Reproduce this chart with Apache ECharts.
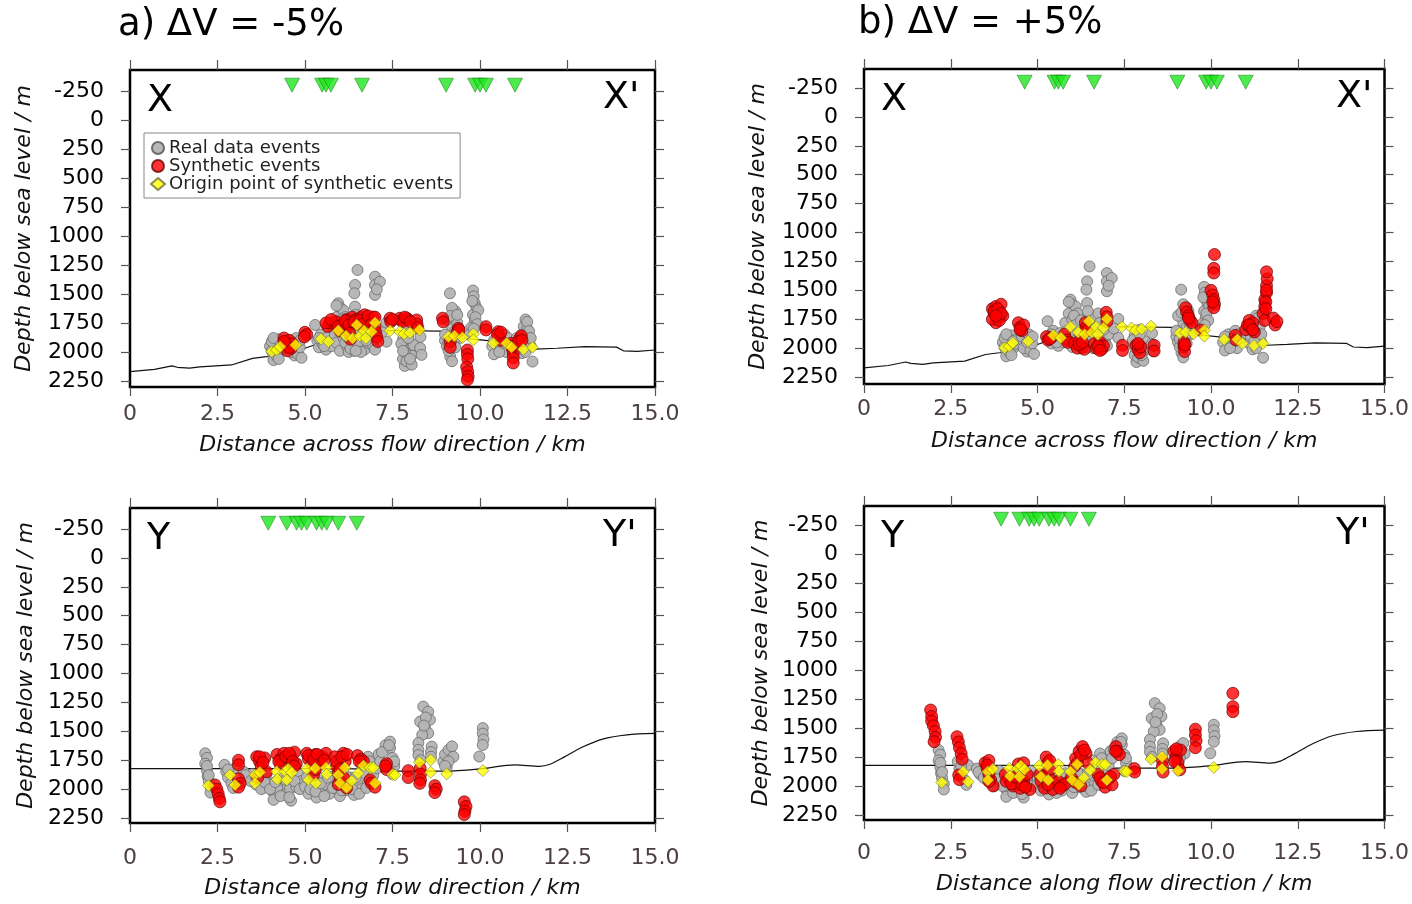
<!DOCTYPE html>
<html>
<head>
<meta charset="utf-8">
<script src="https://cdn.jsdelivr.net/npm/echarts@6/dist/echarts.min.js"></script>
<style>html,body{margin:0;padding:0;background:#fff}#c{width:1412px;height:904px}</style>
</head>
<body>
<div id="c"></div>
<script>
// ---------- tick labels ----------
const yTicks = [-250, 0, 250, 500, 750, 1000, 1250, 1500, 1750, 2000, 2250];
const panelTitles = ['a) \u0394V = -5%', 'b) \u0394V = +5%'];
const xNameAcross = 'Distance across flow direction / km';
const xNameAlong = 'Distance along flow direction / km';
const yName = 'Depth below sea level / m';

// ---------- profile X (across flow) ----------
const stationsX = [4.63, 5.49, 5.6, 5.74, 6.63, 9.03, 9.86, 10.0, 10.17, 11.0];
const topoX = [[0,2170],[0.7,2150],[1.2,2120],[1.35,2132],[1.7,2140],[2.0,2128],[2.9,2112],[3.5,2055],[3.9,2040],[4.5,2010],[5.0,1968],[5.4,1925],[5.9,1860],[6.5,1830],[7.3,1815],[8.9,1820],[9.1,1850],[9.5,1880],[10.3,1905],[11.0,1940],[11.6,1975],[12.2,1968],[13.0,1954],[13.9,1958],[14.1,1990],[14.5,1995],[15,1983]];
const grayX = [[4.0,1950],[4.05,1990],[4.1,2030],[4.1,2070],[4.15,1920],[4.2,1960],[4.25,1890],[4.3,2000],[4.35,1930],[4.05,1910],[4.2,2040],[4.4,1960],
[4.1,1880],[4.25,2060],[4.3,1940],[4.6,1940],[4.7,2030],
[4.55,1900],[4.6,2000],[4.7,1950],[4.8,2020],[4.85,1960],[4.9,2050],[4.75,1880],[4.86,1900],
[5.35,1900],[5.4,1960],[5.45,1850],[5.5,1930],[5.6,1980],[5.7,1900],[5.75,1950],[5.29,1767],
[5.4,1880],[5.55,1950],[5.65,1870],[5.8,1780],
[5.95,1580],[6.0,1620],[6.05,1660],[5.9,1700],[6.1,1640],[6.0,1750],[6.15,1700],[5.9,1600],[6.05,1720],
[5.85,1850],[5.9,1920],[6.0,1990],[6.1,1880],[6.2,1950],[6.25,2000],[6.3,1830],[6.35,1920],[6.4,1990],[6.45,1870],[6.5,1800],[6.55,1950],[6.6,1900],[6.65,1850],[6.7,1980],[6.8,1920],[6.85,1860],[6.9,1780],[6.95,1950],[7.05,1880],[6.2,1800],[6.4,1760],[6.6,1740],[6.75,1700],
[6.1,1800],[6.15,1920],[6.2,1870],[6.3,1970],[6.35,1780],[6.5,1920],[6.55,1830],[6.6,2000],[6.7,1820],[6.75,1900],[6.8,1780],[6.9,1840],[7.0,1980],[6.45,1990],[6.25,1760],
[6.5,1293],[6.43,1422],[6.41,1494],[6.43,1609],[6.45,1680],[7.0,1351],[7.0,1422],[7.14,1394],[7.0,1508],[7.05,1460],
[7.33,1911],[7.33,1747],[7.2,1830],
[7.8,1890],[7.85,1950],[7.9,2000],[7.95,2050],[8.0,2100],[7.85,2120],[7.9,1920],[8.0,1980],[8.05,2030],[7.8,2060],[8.1,1940],[7.95,1840],
[7.75,1930],[7.85,2000],[7.9,2080],[7.95,1880],[8.05,2110],[7.8,1990],[8.0,2060],
[8.29,1966],[8.33,2025],[8.3,1870],
[9.14,1494],[9.0,1900],[9.05,1950],[9.1,1850],[9.2,1780],[9.25,1700],[9.3,1650],[9.2,1620],[9.35,1750],[9.4,1880],[9.15,2040],[9.2,2080],[9.1,1990],[9.3,1820],
[9.0,1850],[9.05,1720],[9.15,1690],[9.25,1900],[9.35,1680],[9.4,1800],[9.3,1960],[9.1,1920],
[9.8,1470],[9.82,1520],[9.85,1580],[9.9,1620],[9.8,1680],[9.85,1740],[9.95,1640],[9.75,1790],[9.7,1850],
[9.78,1560],[9.87,1700],[9.92,1760],[9.82,1800],
[10.35,1950],[10.4,2020],[10.5,1880],[10.6,1960],[10.7,1850],[10.75,2000],
[10.4,1900],[10.55,2000],[10.65,1920],[10.8,1880],
[11.0,1920],[11.1,1960],[11.2,1850],[11.25,1780],[11.3,1720],[11.35,1800],[11.4,1900],[11.45,1950],[11.5,2083],[11.2,2010],
[11.05,1880],[11.15,1900],[11.25,1940],[11.3,1860],[11.35,1740],[11.4,1820],[11.3,2000],[11.45,1880]];
const yellowX = [[4.05,1997],[4.19,1983],[4.29,1954],[4.73,1940],[5.46,1888],[5.67,1911],[5.95,1816],[6.17,1862],[6.36,1882],[6.48,1767],[6.57,1862],[6.69,1816],[6.74,1882],[6.9,1825],[7.0,1747],[7.43,1816],[7.71,1825],[7.83,1845],[8.0,1834],[8.27,1810],[9.1,1868],[9.27,1862],[9.5,1876],[9.81,1845],[9.81,1896],[10.38,1925],[10.76,1925],[10.9,1960],[11.24,1977],[11.5,1960]];
const redXa = [[4.4,1880],[4.45,1920],[4.5,1950],[4.55,1900],[4.6,1970],[4.65,1930],[4.5,1990],[4.55,1960],[4.4,1910],
[5.0,1830],[5.05,1850],[4.98,1870],
[5.65,1780],[5.7,1750],[5.85,1760],[5.9,1740],[6.05,1790],[6.1,1760],[6.2,1720],[6.3,1750],[6.35,1700],[6.45,1720],[6.5,1760],[6.6,1700],[6.7,1680],[6.75,1740],[6.85,1720],[6.95,1700],[6.0,1820],
[5.6,1750],[5.75,1720],[5.95,1780],[6.15,1730],[6.25,1770],[6.4,1740],[6.55,1730],[6.65,1760],[6.8,1690],[6.9,1760],[7.0,1700],
[6.28,1840],[6.3,1890],[7.0,1780],[7.02,1830],[7.05,1870],[7.08,1910],
[7.43,1709],[7.45,1740],[7.71,1709],[7.75,1730],[7.81,1738],[7.9,1709],[7.95,1720],[8.19,1724],[8.2,1760],[7.5,1720],[7.85,1700],[8.0,1740],[8.22,1790],
[8.93,1709],[8.95,1740],[9.38,1796],[9.35,1830],[9.4,1810],[9.15,1910],[9.15,1960],
[9.64,1983],[9.64,2020],[9.65,2060],[9.62,2130],[9.65,2170],[9.66,2210],[9.64,2240],
[10.17,1782],[10.17,1810],[10.52,1825],[10.55,1868],[10.6,1900],[10.5,1850],[10.6,1830],
[10.9,1925],[10.92,1970],[10.95,2010],[10.95,2050],[10.95,2095],[10.92,1950],[11.14,1882],[11.18,1860],[11.1,1910],[11.2,1900]];
const redXb = [[3.7,1660],[3.75,1700],[3.8,1640],[3.85,1740],[3.9,1680],[3.95,1620],[3.8,1780],[3.7,1750],[4.0,1720],[3.9,1760],
[3.75,1680],[3.85,1660],[3.95,1700],[3.8,1720],
[4.45,1780],[4.5,1820],[4.55,1850],[4.6,1800],[4.5,1840],
[5.26,1900],[5.3,1930],[5.4,1910],[5.35,1920],[5.78,1880],[5.85,1930],[5.87,1950],
[6.07,1960],[6.15,2000],[6.2,1940],[6.3,1990],[6.35,2010],[6.2,1970],[6.3,1950],[6.38,1780],[6.4,1820],[6.42,1850],
[6.64,1960],[6.7,2000],[6.8,1950],[6.85,2010],[6.9,1980],[6.75,1980],[6.8,2020],[6.98,1690],[7.0,1730],[7.0,1770],
[7.45,1975],[7.45,2020],[7.84,1975],[7.9,2010],[7.95,2040],[7.98,1990],[7.9,1960],[8.36,1975],[8.36,2025],
[9.27,1650],[9.3,1690],[9.35,1720],[9.4,1760],[9.45,1780],[9.35,1740],[9.22,1950],[9.22,1990],[9.24,2030],[9.25,1970],[9.7,1843],
[10.0,1500],[10.05,1540],[10.08,1580],[10.1,1620],[10.08,1650],[10.05,1600],[10.08,1310],[10.08,1350],[10.1,1190],
[10.7,1890],[10.72,1930],[11.0,1840],[11.05,1800],[11.1,1760],[11.15,1820],[11.2,1780],[11.25,1860],[11.1,1800],[11.2,1840],
[11.5,1700],[11.55,1640],[11.55,1580],[11.6,1520],[11.6,1460],[11.62,1400],[11.6,1340],[11.55,1760],[11.6,1500],[11.58,1600],[11.58,1660],
[11.8,1740],[11.85,1800],[11.9,1770]];

// ---------- profile Y (along flow) ----------
const stationsY = [3.95, 4.48, 4.76, 4.9, 5.05, 5.33, 5.48, 5.62, 5.95, 6.48];
const topoY = [[0,1822],[6.8,1825],[7.0,1845],[9.0,1845],[10.0,1825],[11.0,1790],[11.7,1803],[12.0,1785],[12.4,1723],[12.9,1640],[13.5,1567],[14.2,1530],[15,1518]];
const grayY = [[2.15,1690],[2.2,1730],[2.15,1780],[2.2,1840],[2.22,1890],[2.25,1930],[2.3,1980],[2.3,2030],[2.2,1800],[2.25,1880],
[2.7,1790],[2.75,1850],[2.8,1900],[2.9,1950],[2.95,1990],[3.0,1820],[2.8,1830],
[3.25,1850],[3.35,1900],[3.5,1870],[3.6,1960],[3.7,1920],[3.8,1990],[3.9,1870],[4.0,1950],[4.1,2030],[4.1,2093],[4.2,1990],[4.3,1900],[4.4,2050],[4.5,1960],[4.57,2000],[4.6,2100],[4.65,1890],[4.75,1980],[4.8,1870],[4.9,1930],
[3.3,1880],[3.45,1930],[3.6,1900],[3.75,2000],[3.85,1940],[4.0,2000],[4.15,1940],[4.3,2060],[4.45,1920],[4.55,2070],[4.7,1930],[4.85,2000],
[5.0,1980],[5.1,2040],[5.2,1950],[5.33,2073],[5.4,1900],[5.5,2000],[5.6,1960],[5.7,2040],[5.8,1890],[5.9,2000],[6.0,2060],[6.1,1950],[6.2,2010],[6.3,1900],[6.4,2050],[6.5,1960],[6.6,2000],[6.7,1870],[6.8,1940],[6.9,1800],[7.0,1750],[7.1,1700],[6.6,1780],[6.8,1720],
[5.05,1900],[5.15,2000],[5.3,2020],[5.45,1950],[5.55,2060],[5.65,1900],[5.8,1990],[5.95,1950],[6.05,2010],[6.15,1880],[6.25,1960],[6.35,2000],[6.45,1900],[6.55,2040],[6.75,1990],[6.95,1880],[7.05,1820],[6.85,1760],[7.15,1760],
[7.3,1620],[7.43,1589],[7.43,1644],[7.5,1730],[7.55,1800],[7.5,1870],[7.2,1680],[7.4,1620],[7.55,1760],
[8.38,1286],[8.52,1330],[8.29,1416],[8.57,1400],[8.43,1473],[8.52,1516],[8.35,1530],[8.24,1600],[8.24,1660],[8.24,1705],[8.62,1632],[8.6,1680],[8.3,1750],[8.45,1380],[8.4,1450],[8.6,1720],
[8.95,1760],[9.0,1700],[9.05,1810],[9.1,1660],[9.2,1630],[9.24,1720],[9.1,1760],[9.0,1800],
[10.08,1472],[10.08,1520],[10.1,1570],[10.08,1618],[9.98,1718]];
const yellowY = [[2.24,1969],[2.86,1877],[3.0,1964],[3.57,1877],[3.71,1854],[3.57,1949],[4.19,1848],[4.21,1914],[4.43,1848],[4.52,1825],[4.48,1920],[4.62,1857],[5.05,1825],[5.1,1920],[5.29,1820],[5.31,1949],[5.6,1814],[5.62,1872],[5.95,1877],[6.0,1949],[6.14,1814],[6.19,1987],[6.33,1929],[6.52,1863],[6.67,1797],[6.86,1814],[6.95,1814],[7.0,1949],[7.5,1873],[7.57,1877],[8.27,1768],[8.59,1747],[8.59,1854],[9.05,1868],[10.08,1840]];
const redYc = [[2.43,1964],[2.48,2000],[2.52,2040],[2.55,2080],[2.57,2110],
[3.1,1750],[3.1,1790],[3.1,1910],[3.15,1950],[3.1,1983],
[3.62,1720],[3.7,1760],[3.75,1800],[3.85,1730],[3.9,1850],[3.65,1900],[3.7,1720],[3.8,1770],
[4.2,1700],[4.3,1740],[4.4,1690],[4.5,1760],[4.6,1720],[4.7,1680],[4.75,1780],[4.3,1790],[4.25,1760],[4.45,1720],[4.55,1690],[4.65,1760],[4.7,1800],
[5.05,1690],[5.1,1740],[5.2,1780],[5.3,1700],[5.4,1750],[5.5,1720],[5.6,1690],[5.24,1877],[5.3,1830],[5.1,1710],[5.25,1740],[5.35,1700],[5.45,1780],[5.55,1750],
[5.85,1720],[5.9,1800],[5.95,1860],[6.0,1930],[6.1,1690],[6.15,1760],[6.19,1990],[6.1,1900],[5.9,1760],[6.05,1720],[6.2,1700],[5.95,1960],[6.0,1830],
[6.5,1710],[6.6,1740],[6.67,1760],[6.55,1760],[6.86,1920],[6.9,1950],[7.0,1983],
[7.33,1780],[7.33,1830],[7.3,1800],[7.95,1840],[7.95,1900],
[8.29,1820],[8.3,1870],[8.3,1920],[8.28,1950],[8.71,1970],[8.75,2000],[8.71,2030],
[9.55,2110],[9.6,2150],[9.57,2190],[9.55,2220]];
const redYd = [[1.92,1345],[1.95,1400],[1.95,1440],[2.0,1480],[2.05,1530],[2.06,1580],[2.02,1618],
[2.68,1575],[2.72,1620],[2.75,1670],[2.8,1720],[2.83,1770],[2.73,1905],[2.75,1945],
[3.49,1800],[3.55,1850],[3.6,1900],[3.65,1950],[3.72,2000],[3.6,1780],[3.55,1820],[3.6,1960],
[4.07,1900],[4.2,1950],[4.3,2000],[4.4,1930],[4.5,2020],[4.6,1960],[4.7,1900],[4.78,2030],[4.45,1810],[4.6,1800],
[4.1,1960],[4.25,1980],[4.35,1920],[4.55,1990],[4.65,2010],
[5.07,1900],[5.1,1960],[5.2,2020],[5.25,1750],[5.3,1800],[5.35,1860],[5.4,1950],[5.44,2030],[5.15,1920],[5.3,1990],[5.35,1780],
[5.6,1960],[5.7,2000],[5.8,1980],[5.65,2020],
[6.07,1830],[6.1,1760],[6.2,1700],[6.3,1660],[6.4,1720],[6.44,1800],[6.15,1800],[6.25,1730],[6.35,1690],[5.98,1930],[6.1,1970],[6.25,2000],
[6.75,1900],[6.85,1960],[6.95,2010],[7.05,1940],[7.15,1990],[7.2,1900],[6.8,1930],[6.9,1970],[7.1,1920],
[7.26,1660],[7.3,1700],[7.36,1730],[7.25,1700],[7.79,1850],[7.8,1880],
[8.6,1780],[8.6,1830],[8.62,1880],[8.93,1700],[9.0,1750],[9.05,1800],[9.1,1860],[9.12,1690],[9.0,1680],[8.95,1790],
[9.55,1510],[9.55,1560],[9.57,1610],[9.55,1670],[10.63,1201],[10.63,1316],[10.63,1359]];
const stationDepth = -300;

// ---------- layout ----------
const FONT = 'DejaVu Sans';
const grids = [
  {left:130, top:70, width:525, height:317, yMin:-431, yMax:2302, xGap:16, nameGap:47, yNameGap:95},
  {left:864, top:69, width:524, height:315, yMin:-414, yMax:2310, xGap:14, nameGap:46, yNameGap:95},
  {left:130, top:508, width:525, height:315, yMin:-432, yMax:2293, xGap:24, nameGap:54, yNameGap:93},
  {left:864, top:506, width:524, height:314, yMin:-414, yMax:2293, xGap:22, nameGap:53, yNameGap:92}
];
const panels = [
  {gray:grayX, red:redXa, yellow:yellowX, topo:topoX, st:stationsX, xname:xNameAcross, L:'X'},
  {gray:grayX, red:redXb, yellow:yellowX, topo:topoX, st:stationsX, xname:xNameAcross, L:'X'},
  {gray:grayY, red:redYc, yellow:yellowY, topo:topoY, st:stationsY, xname:xNameAlong, L:'Y'},
  {gray:grayY, red:redYd, yellow:yellowY, topo:topoY, st:stationsY, xname:xNameAlong, L:'Y'}
];

const grid = [], xAxis = [], yAxis = [], series = [], graphic = [];
const tickStyle = {lineStyle:{color:'#555', width:1.2}};
grids.forEach((g, i) => {
  grid.push({left:g.left, top:g.top, width:g.width, height:g.height, show:true, borderColor:'#000', borderWidth:2.5, backgroundColor:'#fff', containLabel:false});
  xAxis.push({type:'value', gridIndex:i, min:0, max:15, interval:2.5, position:'bottom',
    axisLine:{show:false, onZero:false}, splitLine:{show:false},
    axisTick:{show:true, inside:false, length:9, ...tickStyle},
    axisLabel:{margin:g.xGap, fontFamily:FONT, fontSize:22, color:'#4b3f3f', formatter:v => v === 0 ? '0' : v.toFixed(1)},
    name:panels[i].xname, nameLocation:'middle', nameGap:g.nameGap,
    nameTextStyle:{fontFamily:FONT, fontSize:22, fontStyle:'italic', color:'#111'}});
  xAxis.push({type:'value', gridIndex:i, min:0, max:15, interval:2.5, position:'top',
    axisLine:{show:false, onZero:false}, splitLine:{show:false}, axisLabel:{show:false},
    axisTick:{show:true, inside:false, length:10, ...tickStyle}});
  yAxis.push({type:'value', gridIndex:i, inverse:true, min:g.yMin, max:g.yMax, position:'left',
    axisLine:{show:false, onZero:false}, splitLine:{show:false},
    axisTick:{show:true, inside:false, length:9, customValues:yTicks, ...tickStyle},
    axisLabel:{margin:26, fontFamily:FONT, fontSize:22, color:'#000', customValues:yTicks, formatter:v => String(v)},
    name:yName, nameLocation:'middle', nameGap:g.yNameGap, nameRotate:90,
    nameTextStyle:{fontFamily:FONT, fontSize:22, fontStyle:'italic', color:'#111'}});
  yAxis.push({type:'value', gridIndex:i, inverse:true, min:g.yMin, max:g.yMax, position:'right',
    axisLine:{show:false, onZero:false}, splitLine:{show:false}, axisLabel:{show:false},
    axisTick:{show:true, inside:false, length:9, customValues:yTicks, ...tickStyle}});

  const p = panels[i];
  const xi = 2*i, yi = 2*i;
  series.push({type:'line', xAxisIndex:xi, yAxisIndex:yi, data:p.topo, showSymbol:false, smooth:i>=2 ? 0.3 : 0,
    lineStyle:{color:'#111', width:1.2}, z:2, silent:true, clip:true});
  series.push({type:'scatter', name:'Real data events', xAxisIndex:xi, yAxisIndex:yi, data:p.gray, symbol:'circle', symbolSize:11,
    itemStyle:{color:'#b4b4b4', borderColor:'#666', borderWidth:0.8, opacity:0.95}, z:3});
  series.push({type:'scatter', name:'Synthetic events', xAxisIndex:xi, yAxisIndex:yi, data:p.red, symbol:'circle', symbolSize:12,
    itemStyle:{color:'#ff0000', borderColor:'#6e0000', borderWidth:0.9}, z:4});
  series.push({type:'scatter', name:'Origin point of synthetic events', xAxisIndex:xi, yAxisIndex:yi, data:p.yellow, symbol:'diamond', symbolSize:12,
    itemStyle:{color:'#ffff00', borderColor:'#6b6b3a', borderWidth:0.7}, z:5});
  series.push({type:'scatter', xAxisIndex:xi, yAxisIndex:yi, data:p.st.map(x => [x, stationDepth]), symbol:'triangle', symbolRotate:180, symbolSize:[15,14],
    itemStyle:{color:'#1ee61e', borderColor:'#107010', borderWidth:0.6}, z:6, silent:true});

  // panel corner letters
  graphic.push({type:'text', left:g.left+17, top:g.top+12, style:{text:p.L, font:'38px ' + FONT, fill:'#000'}});
  graphic.push({type:'text', left:g.left+g.width-52, top:g.top+9, style:{text:p.L + "'", font:'38px ' + FONT, fill:'#000'}});
});
graphic.push({type:'text', left:118, top:7, style:{text:panelTitles[0], font:'37px ' + FONT, fill:'#000'}});
graphic.push({type:'text', left:858, top:5, style:{text:panelTitles[1], font:'37px ' + FONT, fill:'#000'}});

const chart = echarts.init(document.getElementById('c'), null, {renderer:'canvas'});
chart.setOption({
  animation:false,
  backgroundColor:'#fff',
  grid, xAxis, yAxis, series, graphic,
  legend:{show:true, left:144, top:133, orient:'vertical', itemGap:0, itemWidth:14, itemHeight:12,
    padding:[6,7,5,6], borderColor:'#888', borderWidth:1, backgroundColor:'#fff', selectedMode:false,
    data:['Real data events','Synthetic events','Origin point of synthetic events'],
    textStyle:{fontFamily:FONT, fontSize:18, lineHeight:18, color:'#222', padding:[0,0,0,-1]}}
});
</script>
</body>
</html>
